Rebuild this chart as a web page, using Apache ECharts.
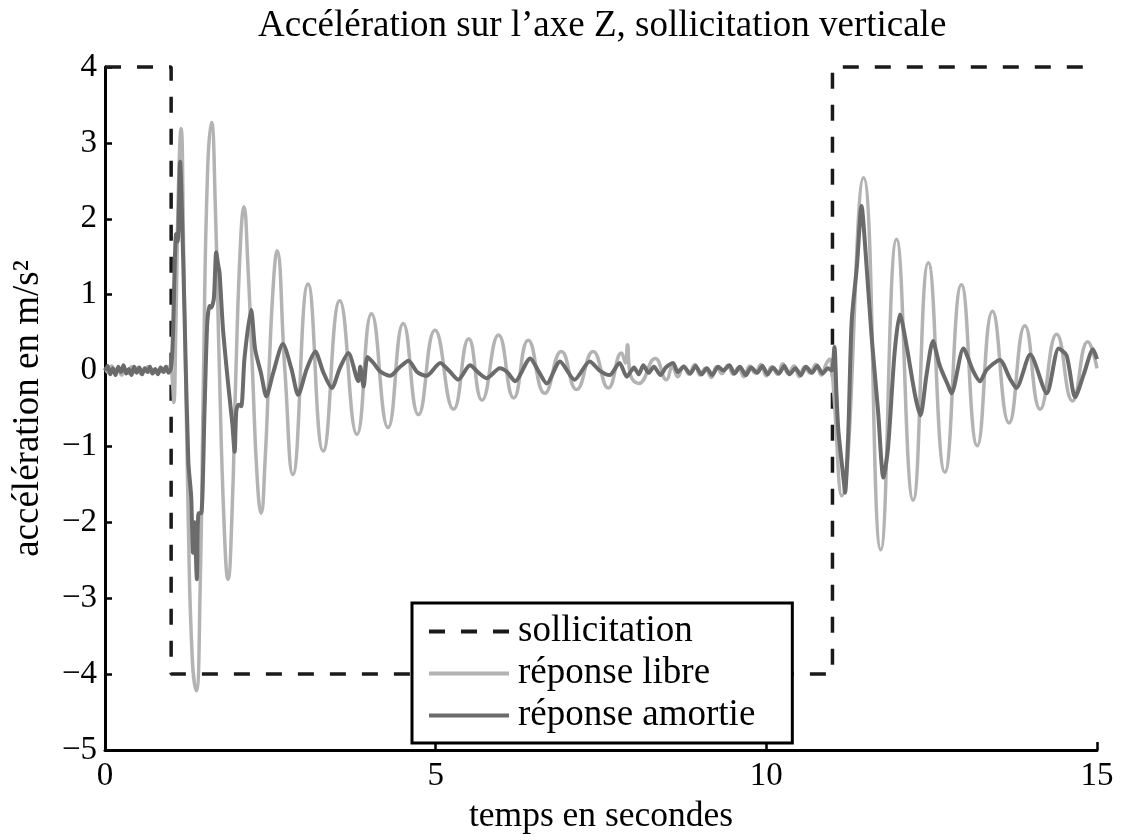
<!DOCTYPE html>
<html>
<head>
<meta charset="utf-8">
<script src="https://cdn.jsdelivr.net/npm/echarts@6/dist/echarts.min.js"></script>
<style>html,body{margin:0;padding:0;background:#fff;}#chart{width:1121px;height:840px;}</style>
</head>
<body>
<div id="chart"></div>
<script>
const titleText = "Accélération sur l’axe Z, sollicitation verticale";
const xName = "temps en secondes";
const yName = "accélération en m/s²";
const seriesNames = ["sollicitation", "réponse libre", "réponse amortie"];
const xTicks = [0, 5, 10, 15];
const yTicks = [-5, -4, -3, -2, -1, 0, 1, 2, 3, 4];

// excitation (step signal)
const sollicitation = [[0, 4], [1, 4], [1, -4], [11, -4], [11, 4], [15, 4]];

// free response (light grey)
const libre = [
  [0, 0.04], [0.05, -0.03], [0.1, 0.06], [0.15, -0.02], [0.2, 0.03], [0.25, -0.06], [0.3, 0.02], [0.35, -0.04],
  [0.4, 0.05], [0.45, -0.02], [0.5, 0.04], [0.55, -0.05], [0.6, 0.01], [0.65, 0.05], [0.7, -0.03], [0.75, 0.02],
  [0.8, -0.04], [0.85, 0.04], [0.9, -0.02], [0.95, 0.05], [1.0, 0.02],
  [1.02, -0.15], [1.04, -0.42], [1.07, 0.5], [1.11, 2.4], [1.15, 3.19], [1.19, 1.5], [1.26, -2.0], [1.32, -3.8],
  [1.38, -4.22], [1.44, -2.8], [1.49, 0.0], [1.55, 2.6], [1.61, 3.27], [1.67, 2.1], [1.73, 0.0], [1.80, -2.0],
  [1.86, -2.75], [1.92, -1.9], [1.98, 0.0], [2.05, 1.7], [2.10, 2.16], [2.16, 1.4], [2.23, 0.0], [2.30, -1.4],
  [2.36, -1.88], [2.42, -1.2], [2.48, 0.0], [2.55, 1.2], [2.60, 1.58], [2.72, 0.0], [2.84, -1.37],
  [3.07, 1.14], [3.30, -1.06], [3.55, 0.92], [3.81, -0.84], [4.03, 0.75], [4.28, -0.75], [4.51, 0.62],
  [4.74, -0.58], [4.99, 0.53], [5.27, -0.51], [5.50, 0.42], [5.70, -0.39], [5.95, 0.47], [6.18, -0.36],
  [6.40, 0.40], [6.65, -0.30], [6.90, 0.25], [7.13, -0.25], [7.38, 0.25], [7.61, -0.23], [7.81, 0.23],
  [7.87, 0.1], [7.90, 0.34], [7.94, -0.04], [8.07, -0.17], [8.32, 0.16], [8.49, -0.12],
  [8.58, 0.05], [8.66, -0.08], [8.75, 0.06], [8.83, -0.05], [8.92, 0.08], [9.0, -0.06], [9.08, 0.03], [9.17, -0.09],
  [9.25, 0.05], [9.33, -0.04], [9.42, 0.07], [9.5, -0.05], [9.58, 0.04], [9.66, -0.08], [9.75, 0.06], [9.83, -0.03],
  [9.92, 0.08], [10.0, -0.07], [10.08, 0.05], [10.17, -0.05], [10.25, 0.09], [10.33, -0.04], [10.42, 0.06],
  [10.5, -0.08], [10.58, 0.05], [10.66, -0.03], [10.75, 0.08], [10.83, -0.06], [10.91, 0.1], [10.96, 0.15],
  [10.99, 0.02], [11.02, -0.3], [11.14, -1.65], [11.47, 2.54], [11.73, -2.36], [11.97, 1.73], [12.22, -1.71],
  [12.45, 1.42], [12.70, -1.34], [12.95, 1.13], [13.19, -0.99], [13.42, 0.78], [13.67, -0.69], [13.91, 0.59],
  [14.14, -0.51], [14.39, 0.48], [14.63, -0.40], [14.86, 0.38], [15.0, 0.03]
];

// damped response (dark grey)
const amortie = [
  [0, 0.0], [0.04, 0.06], [0.08, -0.05], [0.12, 0.03], [0.16, -0.06], [0.2, 0.05], [0.24, -0.02], [0.28, 0.07],
  [0.32, -0.04], [0.36, 0.02], [0.4, -0.06], [0.44, 0.05], [0.48, -0.03], [0.52, 0.04], [0.56, -0.05], [0.6, 0.03],
  [0.64, -0.02], [0.68, 0.05], [0.72, -0.04], [0.76, 0.02], [0.8, -0.05], [0.84, 0.04], [0.88, -0.02], [0.92, 0.05],
  [0.96, -0.03], [1.0, 0.03],
  [1.025, 0.4], [1.076, 1.8], [1.10, 1.7], [1.136, 2.75], [1.177, 1.64], [1.20, 0.83], [1.26, -1.2], [1.303, -1.66],
  [1.33, -2.4], [1.354, -2.0], [1.389, -2.75], [1.414, -1.88], [1.455, -1.88], [1.505, -0.53], [1.545, 0.61],
  [1.58, 0.85], [1.606, 0.83], [1.646, 0.95], [1.682, 1.56], [1.71, 1.4], [1.732, 1.29], [1.783, 0.56],
  [1.859, -0.15], [1.924, -0.69], [1.96, -1.07], [1.985, -0.53], [2.02, -0.45], [2.06, -0.47], [2.11, 0.17],
  [2.21, 0.80], [2.27, 0.28], [2.36, -0.04], [2.44, -0.34], [2.54, -0.04], [2.69, 0.35], [2.82, 0.02],
  [2.92, -0.32], [3.05, 0.02], [3.18, 0.25], [3.30, -0.02], [3.43, -0.23], [3.55, 0.03], [3.68, 0.23],
  [3.83, -0.14], [3.86, 0.05], [3.91, -0.21], [3.97, 0.18], [4.06, 0.1], [4.16, -0.01], [4.31, -0.07],
  [4.45, 0.04], [4.59, 0.13], [4.72, -0.02], [4.86, -0.07], [5.07, 0.1], [5.2, 0.0], [5.34, -0.12], [5.52, 0.07],
  [5.65, -0.03], [5.77, -0.1], [5.97, 0.03], [6.08, -0.02], [6.20, -0.14], [6.43, 0.16], [6.55, 0.0],
  [6.68, -0.17], [6.88, 0.12], [7.10, -0.12], [7.33, 0.12], [7.48, 0.0], [7.63, -0.06], [7.78, 0.10], [7.89, -0.08],
  [8.0, 0.04], [8.07, -0.05], [8.14, 0.07], [8.22, -0.03], [8.3, 0.05], [8.4, -0.06], [8.48, 0.04], [8.59, 0.1],
  [8.66, -0.02], [8.75, 0.05], [8.85, -0.04], [8.93, 0.06], [9.02, -0.05], [9.1, 0.03], [9.18, -0.06], [9.27, 0.05],
  [9.35, 0.0], [9.44, 0.07], [9.52, -0.04], [9.6, 0.05], [9.69, -0.06], [9.77, 0.04], [9.86, -0.03], [9.94, 0.06],
  [10.02, -0.05], [10.1, 0.04], [10.19, -0.04], [10.27, 0.06], [10.35, -0.05], [10.44, 0.03], [10.52, -0.06],
  [10.6, 0.05], [10.69, -0.03], [10.77, 0.06], [10.85, -0.04], [10.93, 0.03], [10.99, 0.0],
  [11.03, 0.31], [11.06, -0.3], [11.09, -0.80], [11.17, -1.45], [11.19, -1.61], [11.24, -0.80], [11.29, 0.64],
  [11.37, 1.38], [11.44, 2.17], [11.49, 1.69], [11.59, 0.47], [11.69, -0.54], [11.77, -1.41], [11.84, -1.02],
  [11.94, 0.24], [12.02, 0.74], [12.12, 0.33], [12.25, -0.33], [12.33, -0.59], [12.42, -0.07], [12.52, 0.39],
  [12.62, 0.07], [12.75, -0.2], [12.80, -0.30], [12.98, 0.29], [13.13, -0.01], [13.23, -0.14], [13.33, 0.01],
  [13.53, 0.14], [13.68, -0.10], [13.78, -0.23], [13.99, 0.21], [14.24, -0.30], [14.42, 0.29], [14.54, 0.2],
  [14.67, -0.35], [14.80, -0.05], [14.94, 0.28], [15.0, 0.15]
];

const FONT = "'Liberation Serif', 'Times New Roman', serif";
const fmtMinus = v => (v < 0 ? '\u2212' + Math.abs(v) : String(v));

const chart = echarts.init(document.getElementById('chart'), null, { renderer: 'canvas' });
chart.setOption({
  animation: false,
  backgroundColor: '#ffffff',
  title: {
    text: titleText,
    left: 258, top: 8, padding: 0,
    textStyle: { fontFamily: FONT, fontSize: 37, fontWeight: 'normal', color: '#000' }
  },
  grid: { left: 105, right: 24, top: 67, bottom: 86, containLabel: false },
  legend: {
    data: seriesNames,
    orient: 'vertical',
    left: 412, top: 603,
    padding: [10, 37, 9, 15],
    itemWidth: 80, itemHeight: 14, itemGap: 5,
    backgroundColor: '#ffffff',
    borderColor: '#000', borderWidth: 3, borderRadius: 0,
    itemStyle: { color: 'rgba(0,0,0,0)', borderWidth: 0, opacity: 0 },
    lineStyle: { width: 4 },
    textStyle: { fontFamily: FONT, fontSize: 37, color: '#000', padding: [0, 0, 0, 4] },
    selectedMode: false
  },
  xAxis: {
    type: 'value', min: 0, max: 15, interval: 5,
    name: xName, nameLocation: 'middle', nameGap: 49,
    nameTextStyle: { fontFamily: FONT, fontSize: 35.5, color: '#000' },
    axisLine: { show: true, onZero: false, lineStyle: { color: '#000', width: 3 } },
    axisTick: { show: true, inside: true, length: 8, lineStyle: { color: '#000', width: 2.5 } },
    axisLabel: { fontFamily: FONT, fontSize: 33, color: '#000', margin: 10,
      formatter: v => (xTicks.indexOf(v) >= 0 ? fmtMinus(v) : '') },
    splitLine: { show: false }
  },
  yAxis: {
    type: 'value', min: -5, max: 4, interval: 1,
    name: yName, nameLocation: 'middle', nameGap: 58, nameRotate: 90,
    nameTextStyle: { fontFamily: FONT, fontSize: 37, color: '#000' },
    axisLine: { show: true, onZero: false, lineStyle: { color: '#000', width: 3 } },
    axisTick: { show: true, inside: true, length: 7, lineStyle: { color: '#000', width: 2.5 } },
    axisLabel: { fontFamily: FONT, fontSize: 33, color: '#000', margin: 8,
      formatter: v => (yTicks.indexOf(v) >= 0 ? fmtMinus(v) : '') },
    splitLine: { show: false }
  },
  series: [
    {
      name: seriesNames[0], type: 'line', data: sollicitation, symbol: 'none', clip: false,
      lineStyle: { color: '#1a1a1a', width: 3.5, type: [16, 16] }, itemStyle: { color: '#1a1a1a' }, z: 2
    },
    {
      name: seriesNames[1], type: 'line', data: libre, symbol: 'none', smooth: 0.5,
      lineStyle: { color: '#b3b3b3', width: 3.5 }, itemStyle: { color: '#b3b3b3' }, z: 3
    },
    {
      name: seriesNames[2], type: 'line', data: amortie, symbol: 'none', smooth: 0.25,
      lineStyle: { color: '#6b6b6b', width: 4 }, itemStyle: { color: '#6b6b6b' }, z: 4
    }
  ]
});
</script>
</body>
</html>
